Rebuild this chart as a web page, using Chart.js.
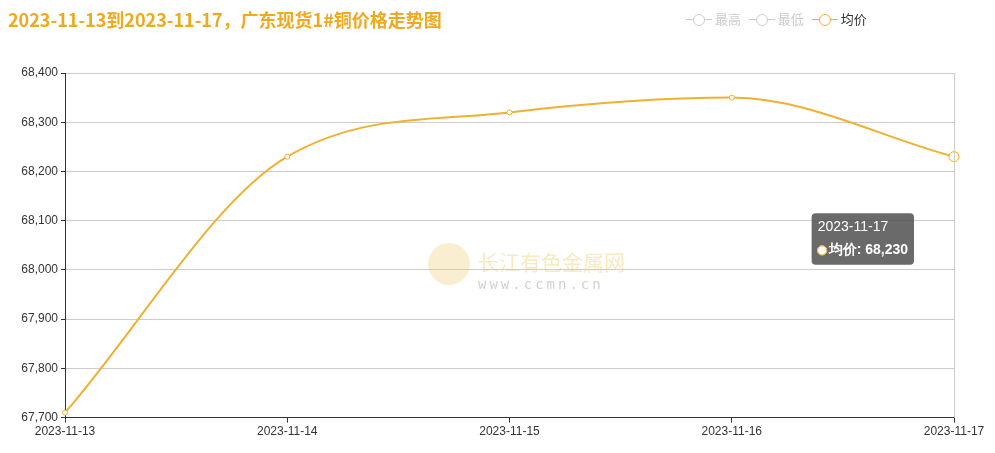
<!DOCTYPE html>
<html><head><meta charset="utf-8">
<script src="https://cdn.jsdelivr.net/npm/chart.js"></script>
<style>
body{margin:0;width:995px;height:453px;position:relative;font-family:"Noto Sans CJK SC","Noto Sans",sans-serif;background:#fff;overflow:hidden}
#t{position:absolute;left:8px;top:6px;font-size:18px;font-weight:bold;color:#f0a81c}
#lg{position:absolute;left:686px;top:9px;font-size:13px;color:#ccc}
#lg span{margin-right:8px}
.mk{display:inline-block;width:26px;height:12px;vertical-align:-1px;position:relative}
.mk:before{content:"";position:absolute;left:0;right:0;top:6px;border-top:1px solid}
.mk:after{content:"";position:absolute;left:7px;top:1px;width:10px;height:10px;border-radius:50%;border:1px solid;background:#fff}
#wm{position:absolute;left:428px;top:246px;color:rgba(240,200,100,0.4);font-size:21px}
#wm b{display:inline-block;width:42px;height:42px;border-radius:50%;background:rgba(240,200,100,0.3);vertical-align:middle;margin-right:8px;margin-top:-10px}
#wm div{display:inline-block;vertical-align:middle}
#wm small{display:block;font-size:14px;letter-spacing:3px;font-family:"DejaVu Sans Mono";color:rgba(170,170,170,0.55)}
#c{position:absolute;left:0;top:0}
</style></head><body>
<canvas id="c" width="995" height="453"></canvas>
<div id="t">2023-11-13到2023-11-17，广东现货1#铜价格走势图</div>
<div id="lg"><span><i class="mk" style="color:#ccc"></i> 最高</span><span><i class="mk" style="color:#ccc"></i> 最低</span><span style="color:#333"><i class="mk" style="color:#f0b030"></i> 均价</span></div>
<div id="wm"><b></b><div>长江有色金属网<small>www.ccmn.cn</small></div></div>
<script>
const categories=["2023-11-13","2023-11-14","2023-11-15","2023-11-16","2023-11-17"];
const avgPrice=[67710,68230,68320,68350,68230];
const yMin=67700,yMax=68400,yStep=100;
Chart.Tooltip.positioners.fixedPos=function(){const a=this.chart.chartArea;return {x:a.right-38,y:239};};
const ch=new Chart(document.getElementById('c'),{
type:'line',
data:{labels:categories,datasets:[{label:'均价',data:avgPrice,borderColor:'#f0b030',backgroundColor:'#fff',borderWidth:2,cubicInterpolationMode:'monotone',pointRadius:2.5,pointBorderWidth:1,pointHoverRadius:5,pointHoverBorderWidth:1,pointHoverBackgroundColor:'#fff'}]},
options:{responsive:false,animation:false,
layout:{padding:{top:73,right:41,left:0,bottom:12}},
plugins:{legend:{display:false},
tooltip:{position:'fixedPos',backgroundColor:'rgba(80,80,80,0.85)',titleFont:{size:14,weight:'normal'},bodyFont:{size:14,weight:'bold'},padding:6,cornerRadius:4,xAlign:'right',yAlign:'center',caretSize:0,
callbacks:{label:c=>'均价: '+c.parsed.y.toLocaleString('en-US')},usePointStyle:true,boxWidth:9,boxHeight:9,
labelColor:()=>({borderColor:'#f0a81c',backgroundColor:'#f0a81c'}),labelPointStyle:()=>({pointStyle:'circle',rotation:0})}},
scales:{
x:{offset:false,grid:{display:true,drawOnChartArea:false,color:'#333',tickLength:5},border:{color:'#333'},ticks:{color:'#333',font:{size:12},maxRotation:0,padding:2}},
y:{min:yMin,max:yMax,ticks:{stepSize:yStep,color:'#333',font:{size:12},callback:v=>v.toLocaleString('en-US')},grid:{color:'#ccc',tickLength:4,tickColor:'#333'},border:{color:'#333'},afterFit:s=>{s.width=65}}
}},
plugins:[{id:'rb',afterDraw(c){const a=c.chartArea,x=c.ctx;x.save();x.strokeStyle='#ccc';x.beginPath();x.moveTo(a.right+0.5,a.top);x.lineTo(a.right+0.5,a.bottom);x.stroke();x.restore();}}]
});
ch.setActiveElements([{datasetIndex:0,index:4}]);
ch.tooltip.setActiveElements([{datasetIndex:0,index:4}],{x:953,y:250});
ch.update();
</script></body></html>
